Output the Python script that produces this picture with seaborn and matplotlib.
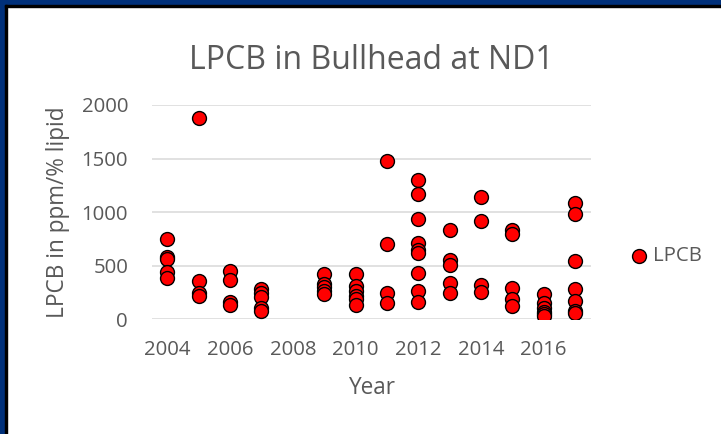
import matplotlib
matplotlib.use("Agg")
import matplotlib.pyplot as plt
from matplotlib.patches import Rectangle
import seaborn as sns
import pandas as pd

# Sampling year for each fish and its lipid-normalised PCB concentration
year = ([2004] * 5 + [2005] * 4 + [2006] * 4 + [2007] * 5 + [2009] * 5 +
        [2010] * 6 + [2011] * 4 + [2012] * 9 + [2013] * 5 + [2014] * 4 +
        [2015] * 5 + [2016] * 6 + [2017] * 7)
lpcb = [750, 580, 565, 440, 385,
        1880, 360, 250, 215,
        455, 370, 160, 135,
        280, 250, 210, 105, 80,
        420, 330, 300, 260, 240,
        420, 310, 260, 220, 190, 130,
        1475, 705, 250, 150,
        1300, 1165, 940, 715, 650, 620, 430, 260, 160,
        830, 550, 505, 335, 245,
        1140, 920, 320, 255,
        830, 795, 295, 190, 120,
        240, 150, 105, 70, 50, 35,
        1085, 980, 545, 280, 170, 80, 60]
x_ticks = [2004, 2006, 2008, 2010, 2012, 2014, 2016]
y_ticks = [0, 500, 1000, 1500, 2000]

df = pd.DataFrame({"Year": year, "LPCB": lpcb})

sns.set_theme(style="white")
plt.rcParams["font.family"] = ["Open Sans", "DejaVu Sans"]

W, H = 721, 434
fig = plt.figure(figsize=(W / 100, H / 100), dpi=100)
fig.patch.set_facecolor("white")

left, right, top, bottom = 151.7, 590.7, 105.0, 319.3
ax = fig.add_axes([left / W, 1 - bottom / H, (right - left) / W, (bottom - top) / H])

sns.scatterplot(data=df, x="Year", y="LPCB", ax=ax, s=100, color="#FF0000",
                edgecolor="black", linewidth=1.0, label="LPCB", zorder=3)

grey = "#595959"
ax.set_xlim(2003.5, 2017.5)
ax.set_ylim(0, 2000)
ax.set_xticks(x_ticks)
ax.set_yticks(y_ticks)
ax.yaxis.grid(True, color="#D9D9D9", linewidth=1.1, zorder=0)
ax.xaxis.grid(False)
for sp in ax.spines.values():
    sp.set_visible(False)
ax.tick_params(axis="both", length=0, labelsize=14.7, labelcolor=grey)
ax.tick_params(axis="x", pad=15)
ax.tick_params(axis="y", pad=17)

ax.set_title("LPCB in Bullhead at ND1", fontsize=23, color=grey, pad=26)
ax.set_xlabel("Year", fontsize=16.3, color=grey)
ax.set_ylabel("LPCB in ppm/% lipid", fontsize=16.3, color=grey)
ax.xaxis.set_label_coords(0.5, (bottom - 388) / (bottom - top))
ax.xaxis.label.set_va("center")
ax.yaxis.set_label_coords((58 - left) / (right - left), 0.5)
ax.yaxis.label.set_va("center")

leg = ax.legend(loc="center left", bbox_to_anchor=(631.9 / W, 1 - 256 / H),
                bbox_transform=fig.transFigure, frameon=False, fontsize=14.7,
                handlelength=0.7, handletextpad=0.33, borderpad=0,
                borderaxespad=0)
for t in leg.get_texts():
    t.set_color(grey)

# Dark frame along the top and left edges
navy = "#00307A"
fig.patches.append(Rectangle((0, 1 - 5 / H), 1, 5 / H, transform=fig.transFigure,
                             color=navy, zorder=10))
fig.patches.append(Rectangle((0, 0), 5 / W, 1, transform=fig.transFigure,
                             color=navy, zorder=10))
fig.patches.append(Rectangle((5 / W, 1 - 7.3 / H), 1, 2.3 / H,
                             transform=fig.transFigure, color="black", zorder=10))
fig.patches.append(Rectangle((5 / W, 0), 2.3 / W, 1 - 5 / H,
                             transform=fig.transFigure, color="black", zorder=10))

fig.savefig("out.png", dpi=100)
